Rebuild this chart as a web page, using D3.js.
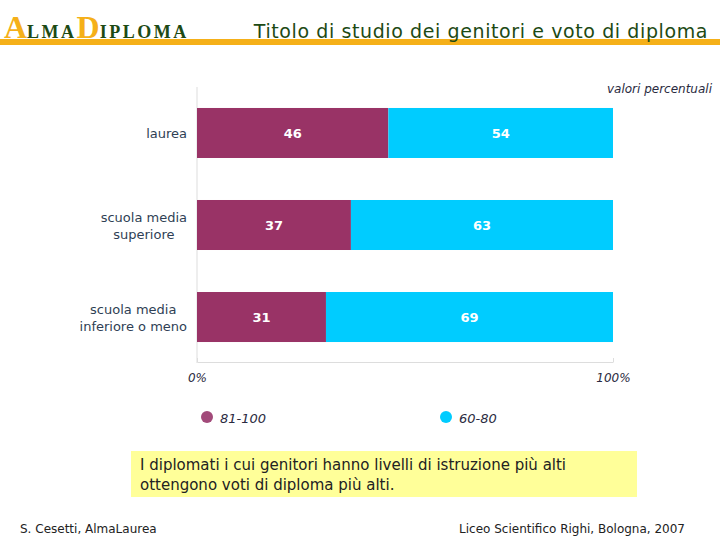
<!DOCTYPE html>
<html><head><meta charset="utf-8">
<script src="https://cdn.jsdelivr.net/npm/d3@7"></script>
<style>body{margin:0;background:#fff;} svg{display:block;}</style>
</head><body>
<script>
const categories = [["laurea"], ["scuola media", "superiore"], ["scuola media", "inferiore o meno"]];
const series = ["81-100", "60-80"];
const highValues = [46, 37, 31];
const lowValues = [54, 63, 69];
const tickLabels = ["0%", "100%"];
const colors = ["#993366", "#00ccff"];

const W = 720, H = 540;
const svg = d3.select("body").append("svg").attr("width", W).attr("height", H);
const font = "Verdana, 'DejaVu Sans', sans-serif";

// header
const gold = "#f5b019", green = "#1d4a14";
svg.append("rect").attr("x", 0).attr("y", 39).attr("width", W).attr("height", 6).attr("fill", gold);
const logo = svg.append("text").attr("x", 4).attr("y", 38).attr("font-family", "'Liberation Serif', 'DejaVu Serif', serif").attr("font-weight", "bold");
logo.append("tspan").attr("font-size", 32).attr("fill", gold).text("A");
logo.append("tspan").attr("font-size", 18).attr("fill", green).attr("letter-spacing", 2.5).text("LMA");
logo.append("tspan").attr("font-size", 32).attr("fill", gold).text("D");
logo.append("tspan").attr("font-size", 18).attr("fill", green).attr("letter-spacing", 2.5).text("IPLOMA");
svg.append("text").attr("x", 708).attr("y", 38).attr("text-anchor", "end")
  .attr("font-family", font).attr("font-size", 19).attr("letter-spacing", 0.6).attr("fill", green)
  .text("Titolo di studio dei genitori e voto di diploma");

svg.append("text").attr("x", 712).attr("y", 93).attr("text-anchor", "end")
  .attr("font-family", font).attr("font-size", 12).attr("font-style", "italic").attr("fill", "#2a2a40")
  .text("valori percentuali");

// chart
const x = d3.scaleLinear().domain([0, 100]).range([197, 613]);
const y = d3.scaleBand().domain(d3.range(categories.length)).range([87, 363]).paddingInner(0.4565).paddingOuter(0.228);

svg.append("line").attr("x1", 197).attr("x2", 197).attr("y1", 87).attr("y2", 363).attr("stroke", "#dddddd");
const xAxis = d3.axisBottom(x).tickValues([0, 100]).tickFormat((d, i) => tickLabels[i]).tickSize(0).tickPadding(11);
const ax = svg.append("g").attr("transform", "translate(0,362)").call(xAxis);
ax.select(".domain").attr("stroke", "#dddddd");
ax.selectAll(".tick text").attr("font-family", font).attr("font-size", 12).attr("font-style", "italic").attr("fill", "#2a2a40");
ax.selectAll(".tick").append("line").attr("y1", 0).attr("y2", -4).attr("stroke", "#dddddd");

const stacked = categories.map((c, i) => [
  { i, s: 0, x0: 0, x1: highValues[i], v: highValues[i] },
  { i, s: 1, x0: highValues[i], x1: highValues[i] + lowValues[i], v: lowValues[i] }
]).flat();

svg.selectAll("rect.bar").data(stacked).join("rect").attr("class", "bar")
  .attr("x", d => x(d.x0)).attr("width", d => x(d.x1) - x(d.x0))
  .attr("y", d => y(d.i)).attr("height", y.bandwidth())
  .attr("fill", d => colors[d.s]);

svg.selectAll("text.val").data(stacked).join("text").attr("class", "val")
  .attr("x", d => (x(d.x0) + x(d.x1)) / 2).attr("y", d => y(d.i) + y.bandwidth() / 2 + 5)
  .attr("text-anchor", "middle").attr("font-family", font).attr("font-size", 13).attr("font-weight", "bold")
  .attr("fill", "#fff").text(d => d.v);

// category labels: lines centered, block right-aligned at x=187
categories.forEach((c, i) => {
  const t = svg.append("text").attr("text-anchor", "middle").attr("font-family", font).attr("font-size", 13).attr("fill", "#2f3f55");
  const cy = y(i) + y.bandwidth() / 2;
  const n = c.length;
  c.forEach((line, j) => {
    t.append("tspan").attr("y", cy + 5 + (j - (n - 1) / 2) * 17).text(line);
  });
  const tsp = t.selectAll("tspan").nodes();
  const maxW = d3.max(tsp, nd => nd.getComputedTextLength());
  t.selectAll("tspan").attr("x", 187 - maxW / 2);
});

// legend
const legendX = [207, 446];
series.forEach((s, i) => {
  svg.append("circle").attr("cx", legendX[i]).attr("cy", 417).attr("r", 6).attr("fill", i === 0 ? "#a24a7a" : colors[1]);
  svg.append("text").attr("x", legendX[i] + 13).attr("y", 423).attr("font-family", font).attr("font-size", 13)
    .attr("font-style", "italic").attr("fill", "#2a2a40").text(s);
});

// note box
svg.append("rect").attr("x", 131).attr("y", 451).attr("width", 506).attr("height", 46).attr("fill", "#ffff99");
const note = svg.append("text").attr("font-family", font).attr("font-size", 15).attr("fill", "#222");
note.append("tspan").attr("x", 140).attr("y", 470).text("I diplomati i cui genitori hanno livelli di istruzione più alti");
note.append("tspan").attr("x", 140).attr("y", 490).text("ottengono voti di diploma più alti.");

// footer
svg.append("text").attr("x", 20).attr("y", 533).attr("font-family", font).attr("font-size", 12).attr("fill", "#222").text("S. Cesetti, AlmaLaurea");
svg.append("text").attr("x", 685).attr("y", 533).attr("text-anchor", "end").attr("font-family", font).attr("font-size", 12).attr("fill", "#222").text("Liceo Scientifico Righi, Bologna, 2007");
</script>
</body></html>
